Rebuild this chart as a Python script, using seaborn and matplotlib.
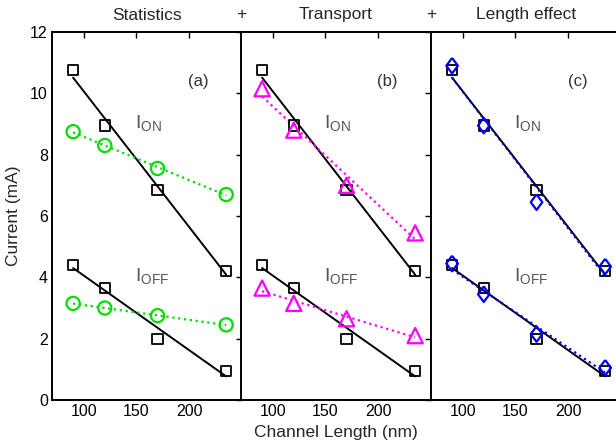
import numpy as np
import seaborn as sns
import matplotlib
matplotlib.use("Agg")
import matplotlib.pyplot as plt

# ---- data ----
length_nm = [90, 120, 170, 235]
ref_on = [10.75, 8.95, 6.85, 4.2]
ref_off = [4.4, 3.65, 2.0, 0.95]
stat_on = [8.75, 8.3, 7.55, 6.7]
stat_off = [3.15, 3.0, 2.75, 2.45]
trans_on = [10.15, 8.8, 7.0, 5.45]
trans_off = [3.65, 3.15, 2.65, 2.1]
len_on = [10.9, 8.95, 6.45, 4.35]
len_off = [4.45, 3.45, 2.15, 1.05]

panel_titles = ["Statistics", "Transport", "Length effect"]
panel_tags = ["(a)", "(b)", "(c)"]
x_ticks = [100, 150, 200]
y_ticks = [0, 2, 4, 6, 8, 10, 12]

sns.set_theme(style="white")
plt.rcParams["font.family"] = ["Liberation Sans", "DejaVu Sans"]
plt.rcParams["mathtext.fontset"] = "custom"
plt.rcParams["mathtext.rm"] = "Liberation Sans"

fig = plt.figure(figsize=(6.16, 4.44), dpi=100)
W, H = 616, 444
lefts = [52, 241, 431]
pw = 190
top, bottom = 32, 400
axes = [fig.add_axes([l / W, 1 - bottom / H, pw / W, (bottom - top) / H]) for l in lefts]

diamond = [(0, 1), (0.75, 0), (0, -1), (-0.75, 0), (0, 1)]
series = [
    (stat_on, stat_off, "o", "#00dd00", 90),
    (trans_on, trans_off, "^", "#ff00ff", 120),
    (len_on, len_off, diamond, "#0000ff", 125),
]

x = np.array(length_nm)
for i, ax in enumerate(axes):
    on, off, mk, col, ms = series[i]
    for ref in (ref_on, ref_off):
        sns.regplot(x=x, y=np.array(ref), ax=ax, ci=None, truncate=True, marker="s",
                    scatter_kws=dict(facecolors="none", edgecolors="black", s=55,
                                     linewidths=1.3, zorder=3, alpha=1),
                    line_kws=dict(color="black", lw=1.4, zorder=2))
    for vals in (on, off):
        sns.regplot(x=x, y=np.array(vals), ax=ax, ci=None, truncate=True, marker=mk,
                    scatter_kws=dict(facecolors="none", edgecolors=col, s=ms,
                                     linewidths=1.6, zorder=4, alpha=1),
                    line_kws=dict(color=col, lw=1.6, ls=":", zorder=2.5))
    ax.set_xlim(70, 250)
    ax.set_ylim(0, 12)
    ax.set_xticks(x_ticks)
    ax.set_yticks(y_ticks)
    ax.set_xlabel("")
    ax.set_ylabel("")
    ax.tick_params(direction="in", top=True, right=(i < 2), length=4, width=1,
                   labelsize=11.5, colors="black", pad=3)
    if i > 0:
        ax.tick_params(labelleft=False)
    for s in ax.spines.values():
        s.set_color("black")
        s.set_linewidth(1.4)
    ax.text(209, 10.4, panel_tags[i], fontsize=12, ha="center", va="center", color="#333333")
    ax.text(149, 9.0, r"I$_{\mathrm{ON}}$", fontsize=14, ha="left", va="center", color="#555555")
    ax.text(149, 4.0, r"I$_{\mathrm{OFF}}$", fontsize=14, ha="left", va="center", color="#555555")

for i, t in enumerate(panel_titles):
    fig.text((lefts[i] + pw / 2) / W, 1 - 15 / H, t, ha="center", va="center", fontsize=12.5)
for l in lefts[1:]:
    fig.text(l / W, 1 - 15 / H, "+", ha="center", va="center", fontsize=12.5)

fig.text(14 / W, 1 - 216 / H, "Current (mA)", rotation=90, ha="center", va="center", fontsize=12.5)
fig.text(336 / W, 1 - 432 / H, "Channel Length (nm)", ha="center", va="center", fontsize=12.5)

fig.savefig("out.png", dpi=100)
